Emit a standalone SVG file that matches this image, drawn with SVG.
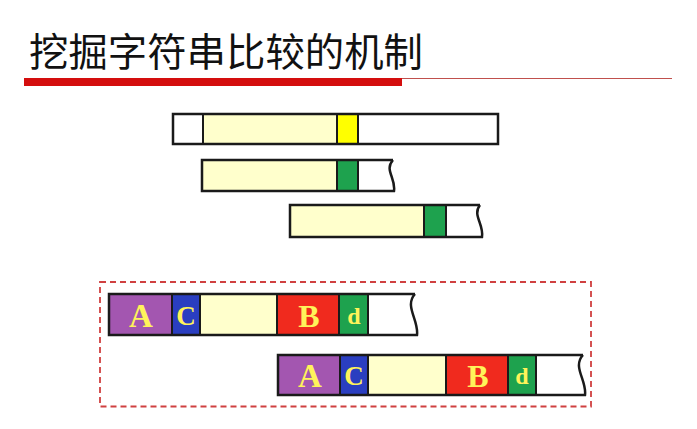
<svg xmlns="http://www.w3.org/2000/svg" width="697" height="429" viewBox="0 0 697 429">
<style>
.t{font-family:"Noto Sans CJK SC","Noto Sans",sans-serif;font-size:39px;fill:#111}
.c{stroke:#1a1a1a;stroke-width:2}
.cream{fill:#FFFFCC}
.wh{fill:#fff}
.yel{fill:#FFFF00}
.grn{fill:#1EA24E}
.pur{fill:#A356B0}
.blu{fill:#2A3EC0}
.red{fill:#F02A1E}
.outline{fill:none;stroke:#1a1a1a;stroke-width:2.5}
.lt{font-family:"Liberation Serif","DejaVu Serif",serif;font-weight:bold;fill:#FFF35A;text-anchor:middle}
</style>
<g id="title">
<text class="t" x="29" y="66" textLength="394" lengthAdjust="spacingAndGlyphs">挖掘字符串比较的机制</text>
<rect x="24" y="78" width="378" height="8" fill="#D40E0E"/>
<line x1="402" y1="78.5" x2="672" y2="78.5" stroke="#C0504D" stroke-width="1.2"/>
</g>
<g id="bar1">
<rect class="wh" x="173" y="114" width="30" height="30"/>
<rect class="cream" x="203" y="114" width="134" height="30"/>
<rect class="yel" x="337" y="114" width="21" height="30"/>
<rect class="wh" x="358" y="114" width="140" height="30"/>
<line class="c" x1="203" y1="114" x2="203" y2="144"/>
<line class="c" x1="337" y1="114" x2="337" y2="144"/>
<line class="c" x1="358" y1="114" x2="358" y2="144"/>
<rect class="outline" x="173" y="114" width="325" height="30"/>
</g>
<g id="bar2">
<path class="cream" d="M202,160 H337 V191 H202 Z"/>
<rect class="grn" x="337" y="160" width="21" height="31"/>
<path class="wh" d="M358,160 H393 C384,170 396,178 394,191 H358 Z"/>
<line class="c" x1="337" y1="160" x2="337" y2="191"/>
<line class="c" x1="358" y1="160" x2="358" y2="191"/>
<path class="outline" d="M393,160 H202 V191 H394 C396,178 384,170 393,160"/>
</g>
<g id="bar3">
<path class="cream" d="M290,205 H424 V237 H290 Z"/>
<rect class="grn" x="424" y="205" width="22" height="32"/>
<path class="wh" d="M446,205 H480 C472,215 484,224 482,237 H446 Z"/>
<line class="c" x1="424" y1="205" x2="424" y2="237"/>
<line class="c" x1="446" y1="205" x2="446" y2="237"/>
<path class="outline" d="M480,205 H290 V237 H482 C484,224 472,215 480,205"/>
</g>
<g id="frame">
<rect x="100" y="282" width="491" height="124.5" fill="none" stroke="#D04040" stroke-width="1.8" stroke-dasharray="6,4"/>
</g>
<g id="seq1">
<rect class="pur" x="109" y="294" width="63" height="41"/>
<rect class="blu" x="172" y="294" width="28" height="41"/>
<rect class="cream" x="200" y="294" width="77" height="41"/>
<rect class="red" x="277" y="294" width="62" height="41"/>
<rect class="grn" x="339" y="294" width="29" height="41"/>
<path class="wh" d="M368,294 H415 C404,306 419,320 417,335 H368 Z"/>
<line class="c" x1="172" y1="294" x2="172" y2="335"/>
<line class="c" x1="200" y1="294" x2="200" y2="335"/>
<line class="c" x1="277" y1="294" x2="277" y2="335"/>
<line class="c" x1="339" y1="294" x2="339" y2="335"/>
<line class="c" x1="368" y1="294" x2="368" y2="335"/>
<path class="outline" d="M415,294 H109 V335 H417 C419,320 404,306 415,294"/>
<text class="lt" x="141" y="327" font-size="33">A</text>
<text class="lt" x="186" y="325" font-size="27">C</text>
<text class="lt" x="309" y="327" font-size="32">B</text>
<text class="lt" x="354" y="324" font-size="24">d</text>
</g>
<g id="seq2">
<rect class="pur" x="278" y="355" width="62" height="40"/>
<rect class="blu" x="340" y="355" width="28" height="40"/>
<rect class="cream" x="368" y="355" width="78" height="40"/>
<rect class="red" x="446" y="355" width="62" height="40"/>
<rect class="grn" x="508" y="355" width="28" height="40"/>
<path class="wh" d="M536,355 H583 C572,367 587,380 585,395 H536 Z"/>
<line class="c" x1="340" y1="355" x2="340" y2="395"/>
<line class="c" x1="368" y1="355" x2="368" y2="395"/>
<line class="c" x1="446" y1="355" x2="446" y2="395"/>
<line class="c" x1="508" y1="355" x2="508" y2="395"/>
<line class="c" x1="536" y1="355" x2="536" y2="395"/>
<path class="outline" d="M583,355 H278 V395 H585 C587,380 572,367 583,355"/>
<text class="lt" x="310" y="387" font-size="33">A</text>
<text class="lt" x="354" y="385" font-size="27">C</text>
<text class="lt" x="478" y="387" font-size="32">B</text>
<text class="lt" x="522" y="384" font-size="24">d</text>
</g>
</svg>
